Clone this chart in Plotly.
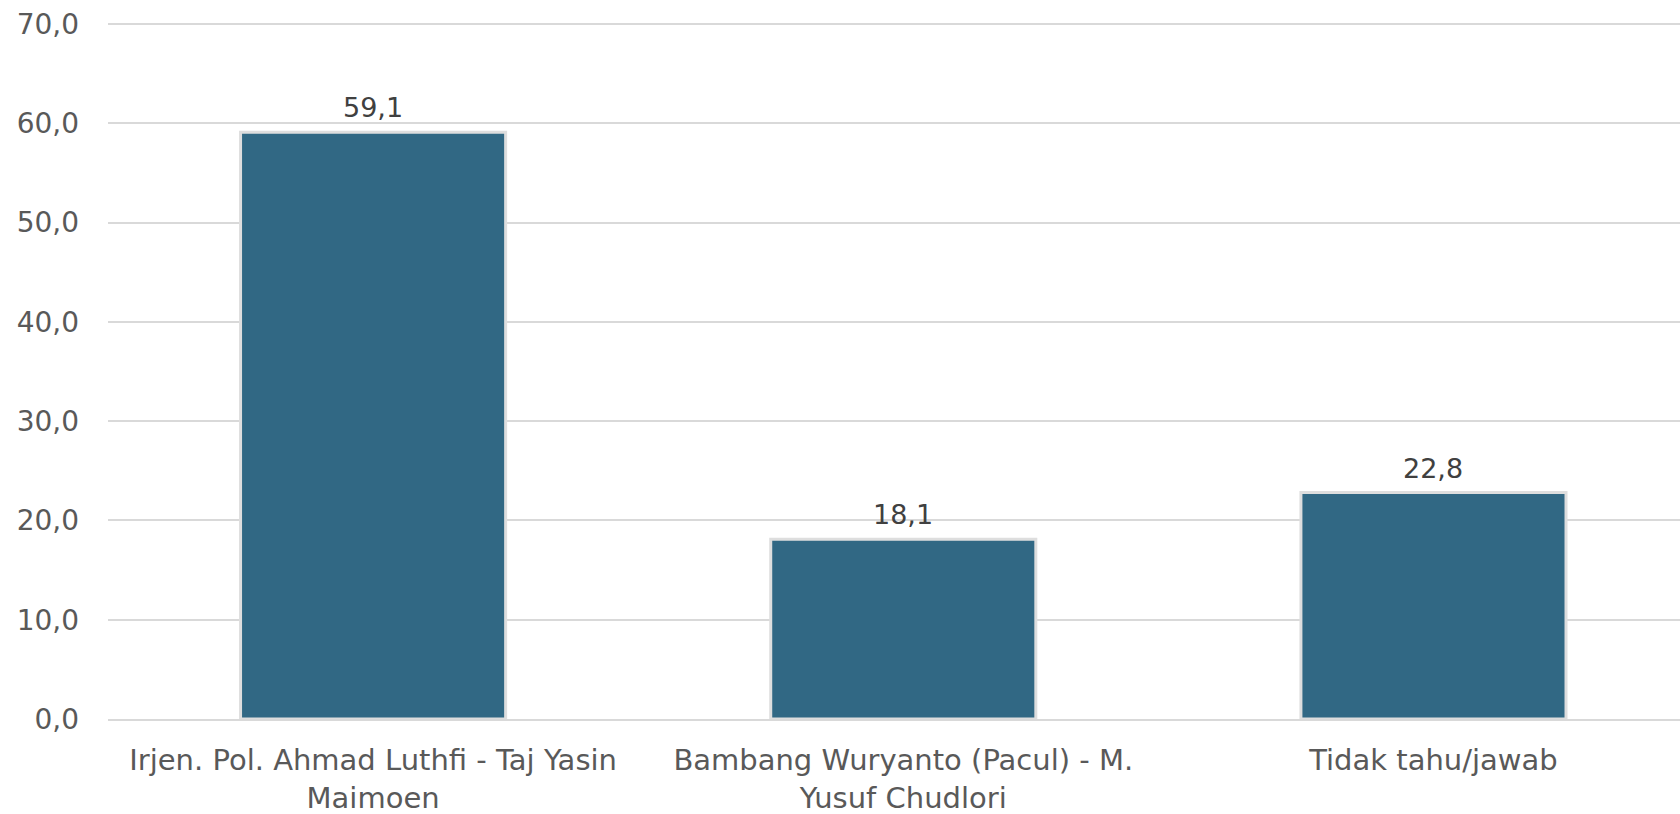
import plotly.graph_objects as go

categories = [
    "Irjen. Pol. Ahmad Luthfi - Taj Yasin<br>Maimoen",
    "Bambang Wuryanto (Pacul) - M.<br>Yusuf Chudlori",
    "Tidak tahu/jawab",
]
values = [59.1, 18.1, 22.8]
tick_values = [0, 10, 20, 30, 40, 50, 60, 70]

bar_color = "#316884"
text_color = "#595959"

fig = go.Figure()

fig.add_trace(go.Bar(
    x=categories,
    y=values,
    width=0.5,
    marker=dict(color=bar_color, line=dict(color="#dedede", width=3)),
    hoverinfo="x+y",
))

for cat, val in zip(categories, values):
    fig.add_annotation(
        x=cat, y=val, text=f"{val:.1f}".replace(".", ","),
        showarrow=False, yanchor="bottom", yshift=7,
        font=dict(size=27, color="#404040"),
    )

fig.update_layout(
    width=1680,
    height=814,
    margin=dict(l=108, r=0, t=20, b=95),
    plot_bgcolor="white",
    paper_bgcolor="white",
    separators=",.",
    showlegend=False,
    font=dict(family="DejaVu Sans", size=28, color=text_color),
    xaxis=dict(
        range=[-0.5, 2.465],
        automargin=False,
        showgrid=False,
        showline=True,
        linecolor="#d9d9d9",
        linewidth=2,
        ticks="",
        ticklabelstandoff=14,
        tickfont=dict(size=29, color=text_color),
    ),
    yaxis=dict(
        range=[0, 70.4],
        automargin=False,
        tickvals=tick_values,
        tickformat=".1f",
        showgrid=True,
        gridcolor="#d9d9d9",
        gridwidth=2,
        zeroline=False,
        ticklabelstandoff=28,
        ticklabeloverflow="allow",
        tickfont=dict(size=28, color=text_color),
    ),
)

# drop the default 8px body margin so the figure fills the window exactly
fig.write_html(
    "out.html",
    config={"displayModeBar": False},
    post_script="document.body.style.margin = '0';",
)
